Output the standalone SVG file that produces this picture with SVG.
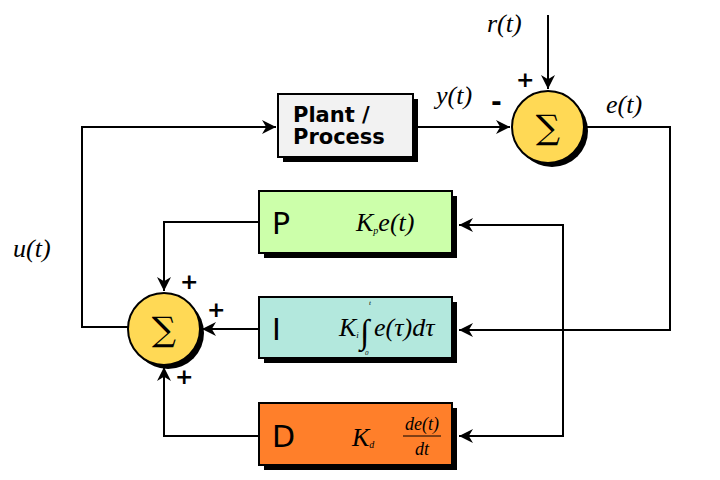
<svg xmlns="http://www.w3.org/2000/svg" width="720" height="480" viewBox="0 0 720 480">
<defs>
<marker id="ar" viewBox="0 0 10 10" refX="10" refY="5" markerWidth="16" markerHeight="14" markerUnits="userSpaceOnUse" orient="auto"><path d="M0,0 L10,5 L0,10 L3,5 Z" fill="#000"/></marker>
<style>
.ln{fill:none;stroke:#000;stroke-width:2}
.box{stroke:#000;stroke-width:2}
.sh{fill:#000}
.m{font-family:"Liberation Serif",serif;font-style:italic;font-size:26px}
.s{font-family:"Liberation Serif",serif;font-style:italic}
.b{font-family:"DejaVu Sans",sans-serif;font-weight:bold}
.L{font-family:"DejaVu Sans",sans-serif;font-size:30px}
</style>
</defs>
<rect width="720" height="480" fill="#fff"/>
<g id="connectors">
<path class="ln" d="M548,15 V89" marker-end="url(#ar)"/>
<path class="ln" d="M413,127 H510" marker-end="url(#ar)"/>
<path class="ln" d="M584,127 H670 V330 H459" marker-end="url(#ar)"/>
<path class="ln" d="M563,330 V225 H459" marker-end="url(#ar)"/>
<path class="ln" d="M563,330 V436 H459" marker-end="url(#ar)"/>
<path class="ln" d="M259,222 H164 V291" marker-end="url(#ar)"/>
<path class="ln" d="M259,329 H202" marker-end="url(#ar)"/>
<path class="ln" d="M259,436 H164 V367" marker-end="url(#ar)"/>
<path class="ln" d="M128,327 H82 V127 H276" marker-end="url(#ar)"/>
</g>
<g id="plant"><rect class="sh" x="283" y="99" width="135" height="63"/><rect class="box" x="278" y="94" width="135" height="63" fill="#f2f2f2"/>
<text class="b" font-size="21" x="293" y="122">Plant /</text><text class="b" font-size="21" x="293" y="144">Process</text></g>
<g id="sum1"><circle class="sh" cx="552" cy="131" r="36"/><circle class="box" cx="548" cy="127" r="36" fill="#ffd955"/>
<text x="548" y="139" text-anchor="middle" font-family="DejaVu Serif,serif" font-size="34">∑</text></g>
<g id="sum2"><circle class="sh" cx="168" cy="333" r="36"/><circle class="box" cx="164" cy="329" r="36" fill="#ffd955"/>
<text x="164" y="341" text-anchor="middle" font-family="DejaVu Serif,serif" font-size="34">∑</text></g>
<g id="P"><rect class="sh" x="264" y="196" width="193" height="62"/><rect class="box" x="259" y="191" width="193" height="62" fill="#ccffaa"/>
<text class="L" x="272" y="234">P</text><text class="m" x="356" y="231">K<tspan font-size="10" dy="3">p</tspan><tspan dy="-3">e(t)</tspan></text></g>
<g id="I"><rect class="sh" x="264" y="302" width="193" height="61"/><rect class="box" x="259" y="297" width="193" height="61" fill="#b3e8dd"/>
<text class="L" x="272" y="340">I</text><text class="m" font-size="24" x="339" y="336">K<tspan font-size="9" dy="2">i</tspan></text>
<text class="s" font-size="34" x="360" y="343">∫</text><text class="s" font-size="7" x="369" y="305">t</text><text class="s" font-size="7" x="365" y="355">0</text>
<text class="m" font-size="24" x="374" y="336">e(τ)dτ</text></g>
<g id="D"><rect class="sh" x="264" y="408" width="193" height="62"/><rect class="box" x="259" y="403" width="193" height="62" fill="#ff7f2a"/>
<text class="L" x="272" y="447">D</text><text class="m" x="352" y="446">K<tspan font-size="10" dy="2">d</tspan></text>
<text class="s" font-size="18" x="422" y="430" text-anchor="middle">de(t)</text><path d="M403,436 H441" stroke="#000" stroke-width="1"/>
<text class="s" font-size="18" x="422" y="455" text-anchor="middle">dt</text></g>
<g id="labels">
<text class="m" x="487" y="32">r(t)</text>
<text class="m" x="436" y="104">y(t)</text>
<text class="m" x="606" y="113">e(t)</text>
<text class="m" x="13" y="257">u(t)</text>
<text class="b" font-size="22" x="516" y="87">+</text>
<text class="b" font-size="26" x="491" y="111">-</text>
<text class="b" font-size="22" x="180" y="289">+</text>
<text class="b" font-size="22" x="207" y="317">+</text>
<text class="b" font-size="22" x="175" y="384">+</text>
</g>
</svg>
